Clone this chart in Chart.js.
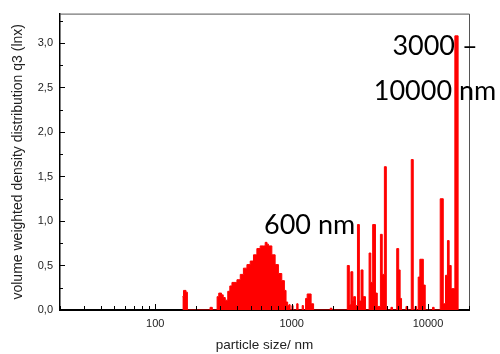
<!DOCTYPE html>
<html>
<head>
<meta charset="utf-8">
<script src="https://cdn.jsdelivr.net/npm/chart.js@4"></script>
<style>
  body { margin: 0; background: #fff; }
  #wrap { width: 500px; height: 354px; }
</style>
</head>
<body>
<div id="wrap"><canvas id="psdChart" width="500" height="354"></canvas></div>
<script>
// particle size (nm), histogram bin starts
const sizes = [
  158, 161, 168, 172,
  252, 262,
  284, 292, 306, 315, 326, 340, 352, 365, 397, 420, 443, 470, 497, 525,
  556, 588, 621, 640, 660, 676, 716, 757, 800, 847, 885, 910, 935, 948,
  955, 975, 1005, 1025, 1090, 1115, 1195, 1220, 1266, 1300, 1390, 1449,
  1920, 1975,
  2560, 2650, 2720, 2810, 2850, 2940, 3040, 3140, 3230, 3340, 3480,
  3700, 3810, 3930, 4120, 4250, 4480, 4620, 4790, 4950, 5350, 5500,
  5900, 6100, 6250, 6400, 6900, 7100, 7540, 7800, 8050, 8250,
  8480, 8720, 9250, 9550, 10800, 11100,
  12300, 12950, 13450, 13900, 14300, 14800, 15750, 16650
];
// volume weighted density q3 (lnx)
const q3 = [
  0.15, 0.22, 0.20, 0,
  0.03, 0,
  0.15, 0.19, 0.17, 0.14, 0.11, 0.21, 0.27, 0.31, 0.34, 0.40, 0.47, 0.51, 0.55, 0.62,
  0.69, 0.72, 0.72, 0.76, 0.74, 0.72, 0.62, 0.51, 0.41, 0.33, 0.22, 0.09, 0.05, 0,
  0.06, 0, 0.05, 0, 0.07, 0, 0.05, 0, 0.13, 0.18, 0.07, 0,
  0.02, 0,
  0.50, 0.06, 0.43, 0.10, 0.15, 0.05, 0.96, 0.10, 0.45, 0.15, 0,
  0.64, 0.31, 0.96, 0.19, 0.04, 0.85, 0.40, 1.61, 0, 0.03, 0,
  0.69, 0.45, 0.13, 0, 0.04, 0, 1.69, 0, 0.04, 0,
  0.37, 0.57, 0.28, 0, 0.03, 0,
  1.25, 0.07, 0.39, 0.78, 0.50, 0.24, 3.08, 0
];
const xTickLabels = [100, 1000, 10000];
const xTitle = 'particle size/ nm';
const yTitle = 'volume weighted density distribution q3 (lnx)';
const notes = ['600 nm', '3000 \u2013', '10000 nm'];

const axisFont = 'Liberation Sans';

// inward ticks, top/right frame and the text notes
const decor = {
  id: 'decor',
  afterDraw(chart) {
    const { ctx, chartArea: a, scales: { x, y } } = chart;
    ctx.save();
    ctx.strokeStyle = '#555';
    ctx.lineWidth = 1;
    ctx.beginPath();
    ctx.moveTo(a.left, a.top + 0.5);
    ctx.lineTo(a.right + 0.5, a.top + 0.5);
    ctx.lineTo(a.right + 0.5, a.bottom);
    ctx.stroke();

    ctx.strokeStyle = '#000';
    ctx.beginPath();
    for (let i = 0; i * 0.25 <= y.max; i++) {
      const py = Math.round(y.getPixelForValue(i * 0.25)) + 0.5;
      ctx.moveTo(a.left, py);
      ctx.lineTo(a.left + (i % 2 === 0 ? 5 : 3), py);
    }
    for (let d = 1; d <= 4; d++) {
      for (let m = 1; m <= 9; m++) {
        const v = m * Math.pow(10, d);
        if (v < x.min || v > x.max) continue;
        const px = Math.round(x.getPixelForValue(v)) + 0.5;
        ctx.moveTo(px, a.bottom);
        ctx.lineTo(px, a.bottom - (m === 1 ? 6 : 4));
      }
    }
    ctx.stroke();

    ctx.fillStyle = '#000';
    ctx.font = '27px Lato';
    ctx.textAlign = 'left';
    ctx.fillText(notes[0], 264, 234);
    ctx.textAlign = 'center';
    ctx.fillText(notes[1], 435, 55);
    ctx.fillText(notes[2], 435, 100);
    ctx.restore();
  }
};

const ctx = document.getElementById('psdChart').getContext('2d');
new Chart(ctx, {
  type: 'line',
  data: {
    datasets: [{
      data: sizes.map((s, i) => ({ x: s, y: q3[i] })),
      borderColor: '#ff0000',
      backgroundColor: '#ff0000',
      borderWidth: 1,
      pointRadius: 0,
      stepped: 'before',
      fill: 'origin'
    }]
  },
  options: {
    responsive: false,
    animation: false,
    layout: { padding: { top: 8, right: 31, left: 0, bottom: 0 } },
    plugins: { legend: { display: false }, tooltip: { enabled: false } },
    scales: {
      x: {
        type: 'logarithmic',
        min: 20,
        max: 20000,
        z: 1,
        grid: { display: false, drawTicks: false },
        border: { display: true, color: '#000', width: 2 },
        ticks: {
          autoSkip: false,
          maxRotation: 0,
          padding: 7,
          color: '#222',
          font: { family: axisFont, size: 11 },
          callback: v => xTickLabels.some(t => Math.abs(t - v) < 1e-6) ? String(Math.round(v)) : ''
        },
        title: {
          display: true,
          text: xTitle,
          color: '#222',
          font: { family: axisFont, size: 13.5 },
          padding: { top: 0, bottom: 1 }
        },
        afterFit: s => { s.height = 44; }
      },
      y: {
        min: 0,
        max: 3.33,
        z: 1,
        grid: { display: false, drawTicks: false },
        border: { display: true, color: '#000', width: 1.5 },
        ticks: {
          stepSize: 0.25,
          includeBounds: false,
          autoSkip: false,
          padding: 7,
          color: '#222',
          font: { family: axisFont, size: 11 },
          callback: v => (Math.round(v * 100) % 50 === 0) ? v.toFixed(1).replace('.', ',') : ''
        },
        title: {
          display: true,
          text: yTitle,
          color: '#222',
          font: { family: axisFont, size: 14 },
          padding: { top: 10, bottom: 0 }
        },
        afterFit: s => { s.width = 60; }
      }
    }
  },
  plugins: [decor]
});
</script>
</body>
</html>
